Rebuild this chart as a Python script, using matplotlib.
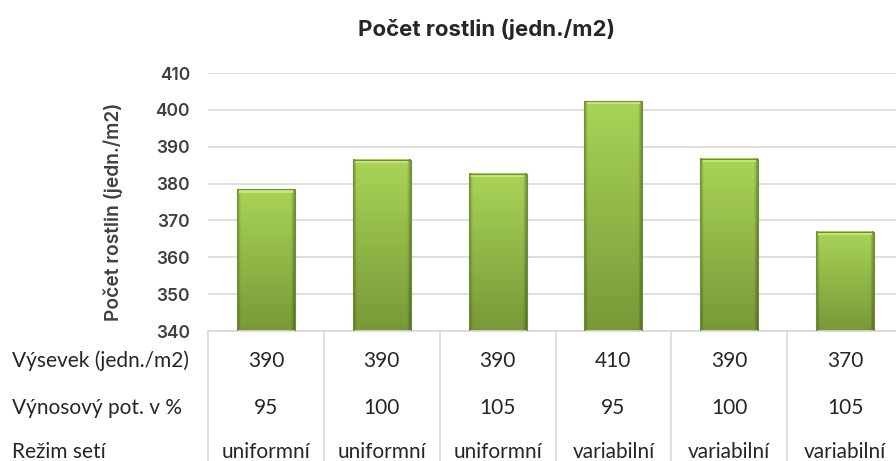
import numpy as np
import matplotlib
matplotlib.use("Agg")
import matplotlib.pyplot as plt
from matplotlib.transforms import blended_transform_factory
from matplotlib.patches import Rectangle

plt.rcParams['font.family'] = ['Lato', 'DejaVu Sans']

title = "Počet rostlin (jedn./m2)"
ylabel = "Počet rostlin (jedn./m2)"
values = [378.4, 386.4, 382.6, 402.4, 386.7, 366.9]
vysevek = ["390", "390", "390", "410", "390", "370"]
vynos = ["95", "100", "105", "95", "100", "105"]
rezim = ["uniformní", "uniformní", "uniformní", "variabilní", "variabilní", "variabilní"]
row_labels = ["Výsevek (jedn./m2)", "Výnosový pot. v %", "Režim setí"]
yticks = [340, 350, 360, 370, 380, 390, 400, 410]

SF = ["Inter", "DejaVu Sans"]

W, H = 896, 461
fig = plt.figure(figsize=(W / 100, H / 100), dpi=100)
ax = fig.add_axes([208 / W, 1 - 331 / H, (903 - 208) / W, (331 - 73) / H])
ymin, ymax = 340, 410
ax.set_xlim(-0.5, len(values) - 0.5)
ax.set_ylim(ymin, ymax)

ax.set_yticks(yticks)
ax.set_yticklabels([str(t) for t in yticks], family=SF, fontweight="semibold",
                   fontsize=12.5, color="#404040")
ax.yaxis.grid(True, color="#d9d9d9", linewidth=1.2)
ax.set_axisbelow(True)
for s in ["top", "right", "left"]:
    ax.spines[s].set_visible(False)
ax.spines["bottom"].set_color("#d9d9d9")
ax.spines["bottom"].set_linewidth(1.2)
ax.tick_params(axis="y", length=0, pad=13)
ax.set_xticks([])

# bar gradient image
ny, nx = 100, 60
top = np.array([0xa9, 0xd4, 0x57]) / 255
bot = np.array([0x78, 0x99, 0x38]) / 255
tv = np.linspace(0, 1, ny)[:, None, None]
img = top * (1 - tv) + bot * tv
xs = np.linspace(0, 1, nx)
edge = np.clip(np.minimum(xs, 1 - xs) / 0.06, 0, 1)
shade = 0.72 + 0.28 * edge
img = img * shade[None, :, None]
img = np.clip(img, 0, 1)

bw = 0.5
for i, v in enumerate(values):
    x0 = i - bw / 2
    ax.imshow(img, extent=(x0, x0 + bw, ymin, v), aspect="auto", origin="upper",
              interpolation="bilinear", zorder=2)
    ax.add_patch(Rectangle((x0 + 0.02, v - 0.9), bw - 0.04, 0.9, facecolor="#c8e47c",
                           edgecolor="none", zorder=3))
    ax.add_patch(Rectangle((x0, ymin), bw, v - ymin, facecolor="none",
                           edgecolor="#6f8f32", linewidth=0.8, zorder=4))

ax.set_ylabel(ylabel, fontsize=13.8, fontweight="semibold", color="#404040",
              family=SF)
ax.yaxis.set_label_coords(-(208 - 123) / (903 - 208), (331 - 211.5) / (331 - 73))
fig.text(486 / W, 1 - 29 / H, title, ha="center", va="center", fontsize=16,
         fontweight="bold", color="#262626", family=SF)

# data table
tr = blended_transform_factory(ax.transData, fig.transFigure)
row_y = [1 - 361 / H, 1 - 408 / H, 1 - 452 / H]
for i in range(len(values) + 1):
    ax.plot([i - 0.5, i - 0.5], [0, 1 - 331 / H], transform=tr, color="#d9d9d9",
            linewidth=1.2, clip_on=False)
rows = [vysevek, vynos, rezim]
for r, (lab, vals) in enumerate(zip(row_labels, rows)):
    fig.text(12 / W, row_y[r], lab, ha="left", va="center", fontsize=15, color="#262626")
    for i, s in enumerate(vals):
        ax.text(i, row_y[r], s, transform=tr, ha="center", va="center", fontsize=15,
                color="#262626", clip_on=False)

fig.savefig("out.png", dpi=100)
